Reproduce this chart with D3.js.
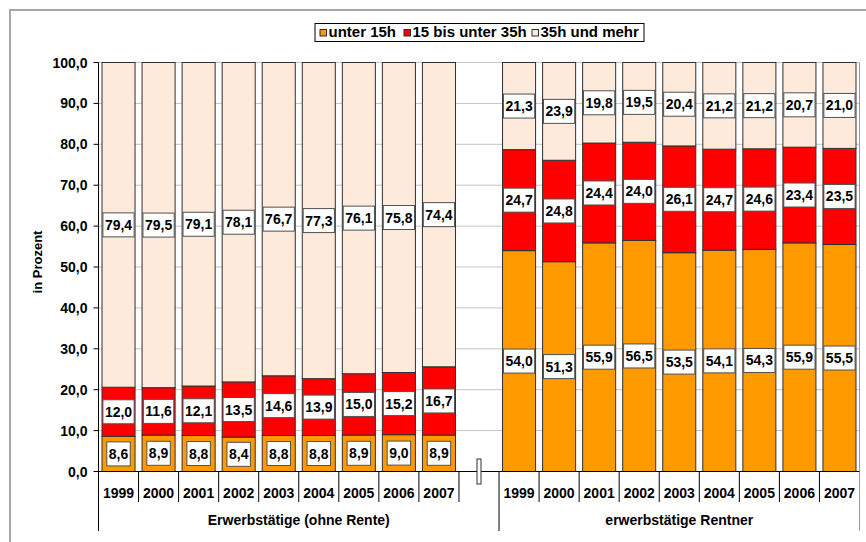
<!DOCTYPE html>
<meta charset="UTF-8">
<style>
body { margin: 0; background: #fff; }
text { font-family: "Liberation Sans", Arial, sans-serif; font-weight: bold; fill: #000; }
.grid line { stroke: #c4c4c4; stroke-width: 1px; }
.seg { stroke: #303030; stroke-width: 1px; }
.lbl rect { fill: #fff; stroke: #505050; stroke-width: 1px; }
</style>
<body>
<script src="https://d3js.org/d3.v7.min.js"></script>
<script>

// categories
var years = ["1999", "2000", "2001", "2002", "2003", "2004", "2005", "2006", "2007"];
var groups = ["Erwerbstätige (ohne Rente)", "erwerbstätige Rentner"];
var seriesNames = ["unter 15h", "15 bis unter 35h", "35h und mehr"];
var colors = ["#ff9900", "#ff0000", "#fdeadb"];
var yTicks = [0, 10, 20, 30, 40, 50, 60, 70, 80, 90, 100];

// Erwerbstätige (ohne Rente)
var erwUnter15 = [8.6, 8.9, 8.8, 8.4, 8.8, 8.8, 8.9, 9.0, 8.9];
var erw15bis35 = [12.0, 11.6, 12.1, 13.5, 14.6, 13.9, 15.0, 15.2, 16.7];
var erw35mehr  = [79.4, 79.5, 79.1, 78.1, 76.7, 77.3, 76.1, 75.8, 74.4];

// erwerbstätige Rentner
var rentUnter15 = [54.0, 51.3, 55.9, 56.5, 53.5, 54.1, 54.3, 55.9, 55.5];
var rent15bis35 = [24.7, 24.8, 24.4, 24.0, 26.1, 24.7, 24.6, 23.4, 23.5];
var rent35mehr  = [21.3, 23.9, 19.8, 19.5, 20.4, 21.2, 21.2, 20.7, 21.0];

var W = 866, H = 542;
var plot = {left: 98.5, right: 859.5, top: 62.5, bottom: 471.5};

// build rows: 9 years, one empty slot, 9 years
var rows = [];
years.forEach(function(y, i) {
  var r = {key: "E" + y, year: y, group: 0};
  r[seriesNames[0]] = erwUnter15[i];
  r[seriesNames[1]] = erw15bis35[i];
  r[seriesNames[2]] = erw35mehr[i];
  rows.push(r);
});
rows.push({key: "gap", year: "", group: 0, empty: true});
years.forEach(function(y, i) {
  var r = {key: "R" + y, year: y, group: 1};
  r[seriesNames[0]] = rentUnter15[i];
  r[seriesNames[1]] = rent15bis35[i];
  r[seriesNames[2]] = rent35mehr[i];
  rows.push(r);
});

var x = d3.scaleBand()
    .domain(rows.map(function(d) { return d.key; }))
    .range([plot.left, plot.right])
    .paddingInner(0.175)
    .paddingOuter(0.0875);

var y = d3.scaleLinear().domain([0, 100]).range([plot.bottom, plot.top]);

var svg = d3.select("body").append("svg")
    .attr("width", W)
    .attr("height", H);

// outer chart frame
svg.append("rect")
    .attr("x", 10).attr("y", 10)
    .attr("width", 900).attr("height", 600)
    .attr("fill", "none")
    .attr("stroke", "#a6a6a6")
    .attr("stroke-width", 2);

// gridlines
svg.append("g").attr("class", "grid")
  .selectAll("line").data(yTicks).enter().append("line")
    .attr("x1", plot.left).attr("x2", plot.right)
    .attr("y1", function(d) { return y(d); })
    .attr("y2", function(d) { return y(d); });

// right edge of plot
svg.append("line")
    .attr("x1", plot.right).attr("x2", plot.right)
    .attr("y1", plot.top).attr("y2", 531)
    .attr("stroke", "#9a9a9a").attr("stroke-width", 1);

// stacked bars
var stack = d3.stack().keys(seriesNames);
var stacked = stack(rows.filter(function(d) { return !d.empty; }));

var layer = svg.selectAll("g.layer")
    .data(stacked).enter().append("g")
    .attr("class", "layer")
    .attr("fill", function(d, i) { return colors[i]; });

layer.selectAll("rect")
    .data(function(d) { return d; })
    .enter().append("rect")
    .attr("class", "seg")
    .attr("x", function(d) { return x(d.data.key); })
    .attr("width", x.bandwidth())
    .attr("y", function(d) { return y(Math.min(d[1], 100)); })
    .attr("height", function(d) { return y(d[0]) - y(Math.min(d[1], 100)); });

// data labels
var fmt = function(v) { return d3.format(".1f")(v).replace(".", ","); };
var labelData = [];
stacked.forEach(function(s) {
  s.forEach(function(d) {
    labelData.push({x: x(d.data.key) + x.bandwidth() / 2, y: y((d[0] + Math.min(d[1], 100)) / 2), v: d[1] - d[0]});
  });
});

var lbl = svg.selectAll("g.lbl")
    .data(labelData).enter().append("g")
    .attr("class", "lbl")
    .attr("transform", function(d) { return "translate(" + d.x + "," + d.y + ")"; });

lbl.append("rect");
lbl.append("text")
    .attr("text-anchor", "middle")
    .attr("y", 5)
    .style("font-size", "14px")
    .text(function(d) { return fmt(d.v); });

lbl.each(function() {
  var g = d3.select(this);
  var w = g.select("text").node().getComputedTextLength() + 4;
  g.select("rect")
    .attr("x", -w / 2).attr("y", -12)
    .attr("width", w).attr("height", 24);
});

// y axis
svg.append("line")
    .attr("x1", plot.left).attr("x2", plot.left)
    .attr("y1", plot.top).attr("y2", 531)
    .attr("stroke", "#000");

var yt = svg.append("g").selectAll("g").data(yTicks).enter().append("g")
    .attr("transform", function(d) { return "translate(0," + y(d) + ")"; });
yt.append("line")
    .attr("x1", plot.left - 5).attr("x2", plot.left)
    .attr("stroke", "#000");
yt.append("text")
    .attr("x", plot.left - 11)
    .attr("y", 5)
    .attr("text-anchor", "end")
    .style("font-size", "14px")
    .text(function(d) { return fmt(d); });

svg.append("text")
    .attr("transform", "translate(42," + 262 + ") rotate(-90)")
    .attr("text-anchor", "middle")
    .style("font-size", "13px")
    .text("in Prozent");

// x axis (two levels)
svg.append("line")
    .attr("x1", plot.left).attr("x2", plot.right)
    .attr("y1", plot.bottom).attr("y2", plot.bottom)
    .attr("stroke", "#000");

var step = x.step();
var bounds = d3.range(rows.length + 1);
svg.append("g").selectAll("line").data(bounds).enter().append("line")
    .attr("x1", function(i) { return plot.left + i * step; })
    .attr("x2", function(i) { return plot.left + i * step; })
    .attr("y1", plot.bottom)
    .attr("y2", function(i) { return (i === 0 || i === 10 || i === rows.length) ? 531 : 502; })
    .attr("stroke", function(i) { return i === rows.length ? "#9a9a9a" : "#000"; });

svg.append("g").selectAll("text").data(rows).enter().append("text")
    .attr("x", function(d) { return x(d.key) + x.bandwidth() / 2; })
    .attr("y", 498)
    .attr("text-anchor", "middle")
    .style("font-size", "14px")
    .text(function(d) { return d.year; });

var groupSpan = [[0, 10], [10, 19]];
svg.append("g").selectAll("text").data(groups).enter().append("text")
    .attr("x", function(d, i) { return plot.left + (groupSpan[i][0] + groupSpan[i][1]) / 2 * step; })
    .attr("y", 525)
    .attr("text-anchor", "middle")
    .style("font-size", "14px")
    .text(function(d) { return d; });

// axis break marker in the empty slot
svg.append("rect")
    .attr("x", x("gap") + x.bandwidth() / 2 - 2)
    .attr("y", 459)
    .attr("width", 4).attr("height", 25)
    .attr("fill", "#fff")
    .attr("stroke", "#303030");

// legend
var legend = svg.append("g");
legend.append("rect")
    .attr("x", 315).attr("y", 23.5)
    .attr("width", 329).attr("height", 18)
    .attr("fill", "#fff").attr("stroke", "#000");

var legX = [320, 404, 532];
var li = legend.selectAll("g.item").data(seriesNames).enter().append("g")
    .attr("transform", function(d, i) { return "translate(" + legX[i] + ",29.5)"; });
li.append("rect")
    .attr("width", 6.5).attr("height", 6.5)
    .attr("fill", function(d, i) { return colors[i]; })
    .attr("stroke", "#303030");
li.append("text")
    .attr("x", 8.5).attr("y", 7.5)
    .style("font-size", "15px")
    .text(function(d) { return d; });

</script>
</body>
